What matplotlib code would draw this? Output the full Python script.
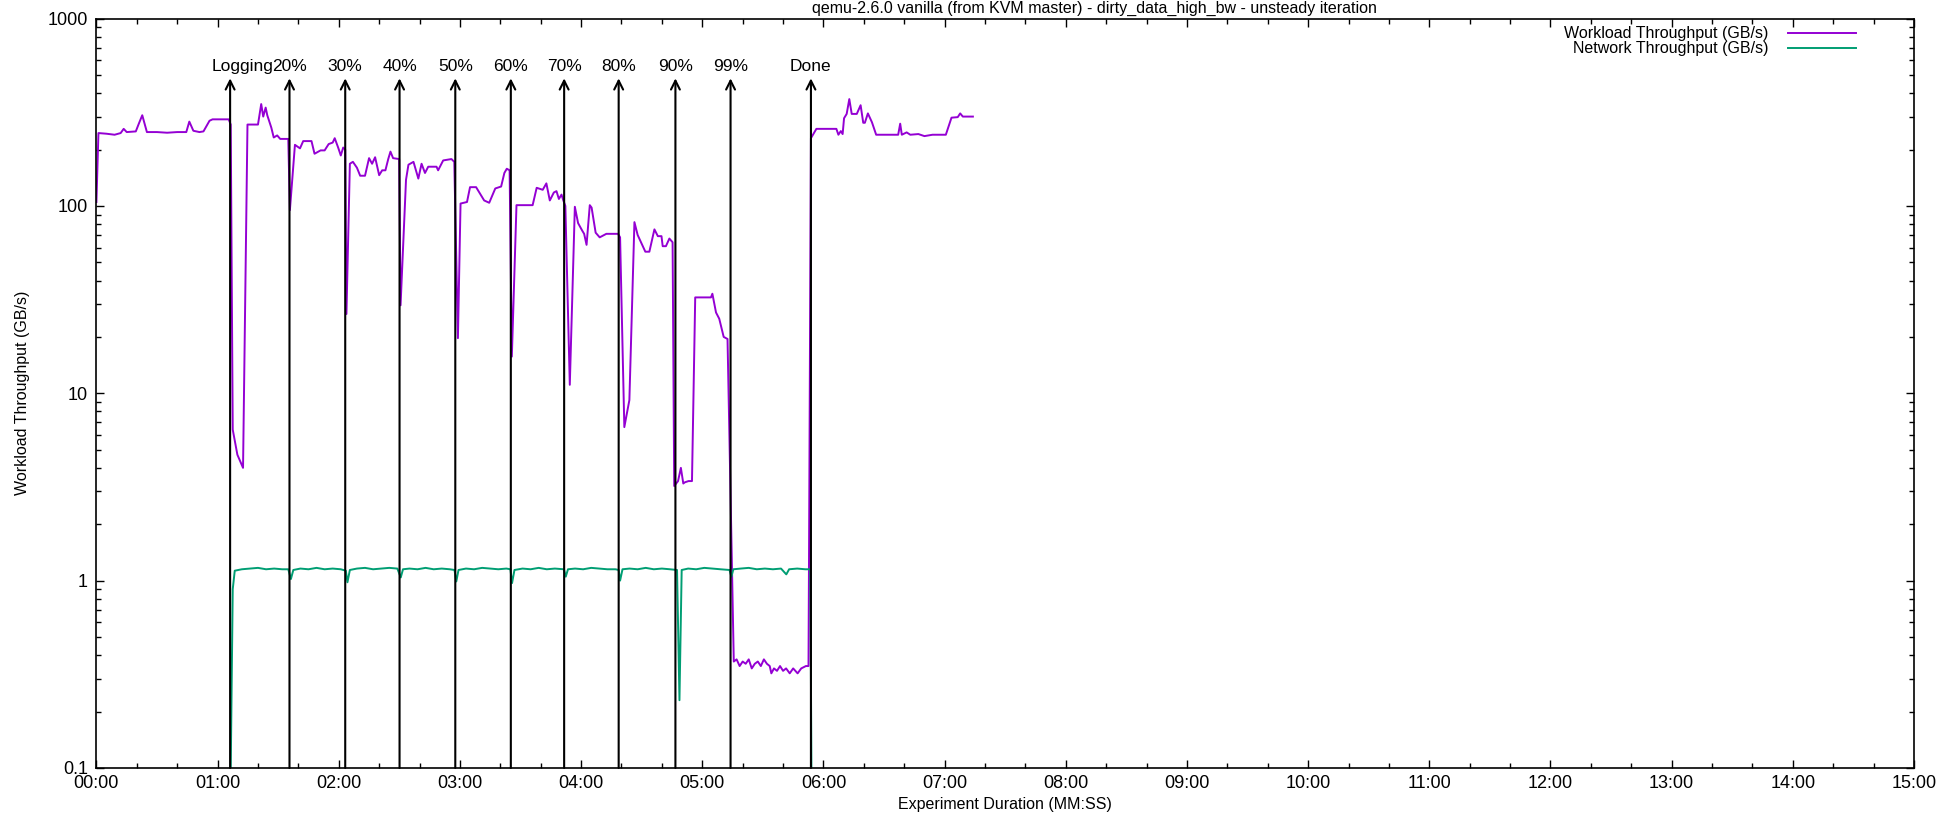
import matplotlib
matplotlib.use("Agg")
import matplotlib.pyplot as plt
from matplotlib.ticker import FixedLocator, FuncFormatter, MultipleLocator

plt.rcParams['font.family'] = ['Liberation Sans', 'DejaVu Sans']

# Zeiten in Sekunden, Werte in GB/s
wl_t = [0, 1, 5, 9, 12, 13.5, 15, 19.5, 21, 22.7, 25, 30, 35, 40, 44.5, 46, 48, 51, 53, 56, 57.5, 62,
        65.5, 66.5, 67.5, 69.8, 72.6, 74.8, 80, 81.6, 82.6, 83.8, 84.6, 86.6, 87.8, 89.5, 91, 95,
        95.8, 98.3, 100.8, 102.4, 106.5, 108, 111, 113, 115, 117, 118, 119.7, 121, 122.2, 123.2,
        123.8, 125.5, 127, 129, 130.6, 133, 135, 136.5, 138, 140, 141.5, 143.1, 144.5, 145.6, 146.9,
        149.9, 150.6, 153.3, 154.5, 157, 159.4, 161, 162.7, 164.3, 168.4, 169.2, 171.7, 175.8, 177.2,
        179, 180.3, 183.5, 185, 188, 192, 194.5, 197.5, 200.4, 202, 203.2, 204.6, 205.7, 208, 216,
        218, 221, 222.8, 224.5, 226.5, 227.8, 229, 230.3, 231.2, 232.2, 234.4, 236.9, 238.5, 240.5,
        241.5, 242.7, 244.3, 245.2, 247.2, 249.2, 252.5, 258.3, 259.3, 261.4, 263.9, 266.4, 268,
        271.8, 273.8, 276.3, 278, 279.8, 280.4, 282, 283.7, 285.3, 286.1, 288, 289.4, 290.6, 291.4,
        293.2, 294.9, 296.5, 300, 304.3, 305, 306.8, 308.4, 310.6, 312.5, 315.6, 317, 318.5, 320,
        321.5, 323, 324.5, 326, 327.5, 329, 330.5, 332, 333.4, 334.2, 335.5, 337, 338.5, 340, 341.5,
        343.3, 345, 347.2, 349, 351.3, 352.6, 353.8, 356.5, 366.4, 367.4, 368.6, 369.5, 370.2, 371.5,
        372.8, 374, 376.5, 378.4, 379.7, 380.5, 382, 384, 386.1, 397, 398, 398.8, 401.2, 403, 407,
        410, 414, 420.6, 423.4, 426.5, 427.7, 429, 434]
wl_v = [105, 245, 243, 240, 245, 258, 248, 250, 275, 305, 248, 248, 246, 248, 248, 282, 252, 248, 250,
        285, 290, 290, 290, 272, 6.4, 4.7, 4.0, 272, 272, 350, 300, 335, 305, 262, 232, 238, 228, 228,
        95, 212, 203, 222, 222, 190, 198, 198, 214, 218, 230, 205, 186, 205, 200,
        26.5, 168, 172, 160, 145, 145, 180, 168, 182, 146, 155, 155, 178, 195, 180,
        178, 29.5, 138, 166, 172, 140, 168, 150, 162, 162, 155, 175, 178, 172,
        19.7, 103, 105, 126, 126, 107, 104, 124, 127, 150, 158, 155, 15.7, 101, 101,
        125, 122, 132, 107, 118, 120, 109, 115, 107, 100, 11.1, 99, 81, 74,
        71, 62, 101, 98, 72, 68, 71, 71, 68, 6.6, 9.2, 82, 70,
        57, 57, 75, 69, 69, 61, 61, 67, 64, 3.2, 3.4, 4.0, 3.3, 3.35,
        3.4, 3.4, 32.5, 32.5, 32.5, 34, 27, 25, 20, 19.5, 0.37, 0.38, 0.35, 0.37,
        0.36, 0.38, 0.34, 0.36, 0.37, 0.35, 0.38, 0.36, 0.35, 0.32, 0.34, 0.33, 0.35, 0.33, 0.34,
        0.32, 0.34, 0.32, 0.34, 0.35, 0.35, 230, 258, 258, 240, 251, 242, 294, 310,
        372, 310, 310, 345, 278, 278, 312, 280, 240, 240, 275, 240, 247, 240, 242,
        236, 240, 240, 296, 298, 312, 300, 300]

net_t = [66.2, 67.5, 68.5, 72, 76, 80, 84, 88, 92, 95, 96.3, 97.5, 101, 105, 109, 113, 117, 121,
         123.5, 124.3, 125.5, 129, 133, 137, 141, 145, 149, 150.7, 151.8, 155, 159, 163, 167, 171,
         175, 177.3, 178.2, 179.3, 183, 187, 191, 195, 199, 203, 205, 205.8, 207, 211, 215, 219,
         223, 227, 231.5, 232.4, 233.5, 237, 241, 245, 249, 253, 257, 258.6, 259.3, 260.5, 264,
         268, 272, 276, 280, 284, 287.5, 288.7, 289.8, 293, 297, 301, 305, 309, 313.5, 314.4, 315.4,
         319, 323, 327, 331, 335, 339, 341.6, 343, 347, 351, 353.5, 354.2]
net_v = [0.05, 0.9, 1.13, 1.15, 1.16, 1.17, 1.15, 1.16, 1.15, 1.15, 1.02, 1.14, 1.16, 1.15, 1.17,
         1.15, 1.16, 1.15, 1.13, 0.98, 1.14, 1.16, 1.17, 1.15, 1.16, 1.17, 1.16, 1.04, 1.15, 1.16,
         1.15, 1.17, 1.15, 1.16, 1.15, 1.14, 0.99, 1.14, 1.16, 1.15, 1.17, 1.16, 1.15, 1.16, 1.15,
         0.97, 1.14, 1.16, 1.15, 1.17, 1.15, 1.16, 1.15, 1.05, 1.15, 1.16, 1.15, 1.17, 1.16, 1.15,
         1.15, 1.14, 1.00, 1.15, 1.16, 1.15, 1.17, 1.15, 1.16, 1.15, 1.14, 0.23, 1.14, 1.16, 1.15,
         1.17, 1.16, 1.15, 1.14, 1.05, 1.15, 1.16, 1.17, 1.15, 1.16, 1.15, 1.16, 1.08, 1.15,
         1.16, 1.15, 1.15, 0.05]

marken_t = [66.2, 95.6, 123.2, 150.1, 177.7, 205.2, 231.6, 258.6, 286.7, 314.0, 353.8]
marken = ["Logging", "20%", "30%", "40%", "50%", "60%", "70%", "80%", "90%", "99%", "Done"]

y_ticks = [0.1, 1, 10, 100, 1000]
y_labels = ["0.1", "1", "10", "100", "1000"]

fig = plt.figure(figsize=(19.4, 8.17), dpi=100)
ax = fig.add_axes([0.0497, 0.06, 0.9369, 0.9172])

ax.plot(wl_t, wl_v, color="#9400D3", lw=1.4, label="Workload Throughput (GB/s)")
ax.plot(net_t, net_v, color="#009E73", lw=1.4, label="Network Throughput (GB/s)")

for t, name in zip(marken_t, marken):
    ax.annotate("", xy=(t, 480), xytext=(t, 0.1),
                arrowprops=dict(arrowstyle="->", lw=1.5, color="black",
                                shrinkA=0, shrinkB=0, mutation_scale=16))
    dx = 9 if name == "Logging" else 0
    ax.annotate(name, xy=(t, 525), xytext=(dx, 0), textcoords="offset points",
                ha="center", va="baseline", fontsize=12.5)

ax.set_yscale("log")
ax.set_ylim(0.1, 1000)
ax.set_xlim(0, 900)
ax.yaxis.set_major_locator(FixedLocator(y_ticks))
ax.yaxis.set_major_formatter(FuncFormatter(lambda v, p: y_labels[y_ticks.index(v)] if v in y_ticks else ""))
ax.xaxis.set_major_locator(MultipleLocator(60))
ax.xaxis.set_minor_locator(MultipleLocator(20))
ax.xaxis.set_major_formatter(FuncFormatter(lambda v, p: "%02d:%02d" % (int(v) // 60, int(v) % 60)))

ax.tick_params(which="both", direction="in", top=True, right=True, labelsize=13, width=1.0)
ax.tick_params(axis="y", pad=6)
ax.tick_params(axis="x", pad=5)
ax.tick_params(which="major", length=6)
ax.tick_params(which="minor", length=3.5)
for s in ax.spines.values():
    s.set_linewidth(1.2)

ax.set_xlabel("Experiment Duration (MM:SS)", fontsize=11.5)
ax.set_ylabel("Workload Throughput (GB/s)", fontsize=11.5)
ax.xaxis.set_label_coords(0.5, -0.039)
ax.yaxis.set_label_coords(-0.0366, 0.5)

ax.legend(loc="upper right", bbox_to_anchor=(0.968, 0.99), frameon=False, markerfirst=False,
          handlelength=4.25, handletextpad=1.2, labelspacing=0.0, borderaxespad=0, borderpad=0,
          fontsize=11.5)

# Titel sitzt ganz oben im schmalen Rand über der Achse
fig.text(0.5644, 0.9995, "qemu-2.6.0 vanilla (from KVM master) - dirty_data_high_bw - unsteady iteration",
         ha="center", va="top", fontsize=11.5)

fig.savefig("out.png", dpi=100)
